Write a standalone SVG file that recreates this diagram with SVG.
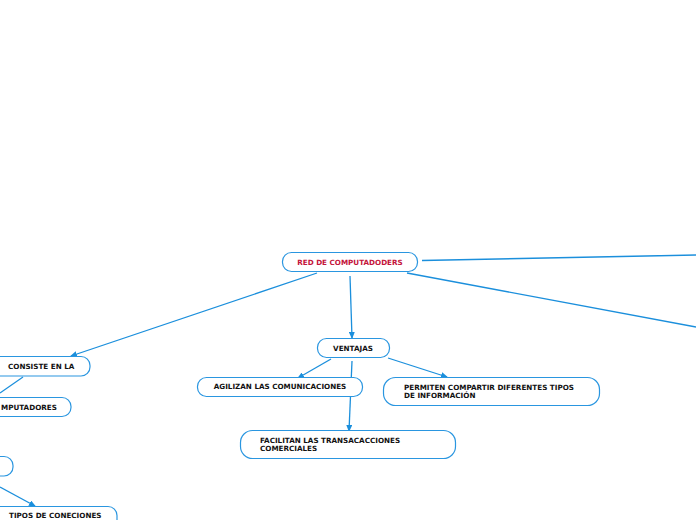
<svg xmlns="http://www.w3.org/2000/svg" width="696" height="520" viewBox="0 0 696 520">
<style>
.n{fill:#fff;stroke:#2a96e0;stroke-width:1.2}
.t{font-family:"DejaVu Sans",Verdana,sans-serif;font-weight:bold;font-size:7.2px;fill:#111}
.r{fill:#c4143a;font-size:7.2px}
.c{fill:none;stroke:#1b8fdc;stroke-width:1.3}
</style>
<defs>
<marker id="a" markerUnits="userSpaceOnUse" markerWidth="7" markerHeight="6" refX="6" refY="3" orient="auto">
<path d="M0,0 L7,3 L0,6 z" fill="#1b8fdc"/>
</marker>
</defs>
<rect width="696" height="520" fill="#fff"/>
<g id="connectors">
<path class="c" d="M422,260.5 L696,255"/>
<path class="c" d="M407,273 L696,327"/>
<path class="c" d="M350,276 L352,338" marker-end="url(#a)"/>
<path class="c" d="M317,273 L71,356" marker-end="url(#a)"/>
<path class="c" d="M331,359 L298,378" marker-end="url(#a)"/>
<path class="c" d="M352,361 L349,431" marker-end="url(#a)"/>
<path class="c" d="M388,358 L447,377" marker-end="url(#a)"/>
<path class="c" d="M23,377 L0,393"/>
<path class="c" d="M0,487 L35,506" marker-end="url(#a)"/>
</g>
<g id="root">
<rect class="n" x="282.5" y="252.5" width="135" height="19" rx="9"/>
<text class="t r" x="350" y="264.5" text-anchor="middle">RED DE COMPUTADODERS</text>
</g>
<g id="ventajas">
<rect class="n" x="317.5" y="338.5" width="72" height="19" rx="9"/>
<text class="t" x="353" y="350.5" text-anchor="middle">VENTAJAS</text>
</g>
<g id="agilizan">
<rect class="n" x="197.5" y="377.5" width="165" height="19" rx="9"/>
<text class="t" x="280" y="389" text-anchor="middle">AGILIZAN LAS COMUNICACIONES</text>
</g>
<g id="permiten">
<rect class="n" x="383.5" y="377.5" width="216" height="28" rx="12"/>
<text class="t" x="404" y="389.5">PERMITEN COMPARTIR DIFERENTES TIPOS</text>
<text class="t" x="404" y="397.5">DE INFORMACIÓN</text>
</g>
<g id="facilitan">
<rect class="n" x="240.5" y="430.5" width="215" height="28" rx="12"/>
<text class="t" x="260" y="442.5">FACILITAN LAS TRANSACACCIONES</text>
<text class="t" x="260" y="450.5">COMERCIALES</text>
</g>
<g id="consiste">
<rect class="n" x="-20" y="356.5" width="110" height="19.5" rx="9"/>
<text class="t" x="8" y="369">CONSISTE EN LA</text>
</g>
<g id="computadores">
<rect class="n" x="-20" y="397.5" width="91" height="19" rx="9"/>
<text class="t" x="1" y="410">MPUTADORES</text>
</g>
<g id="small">
<rect class="n" x="-20" y="456.5" width="33" height="19.5" rx="9"/>
</g>
<g id="tipos">
<rect class="n" x="-20" y="506.5" width="137" height="25" rx="9"/>
<text class="t" x="9" y="518">TIPOS DE CONECIONES</text>
</g>
</svg>
